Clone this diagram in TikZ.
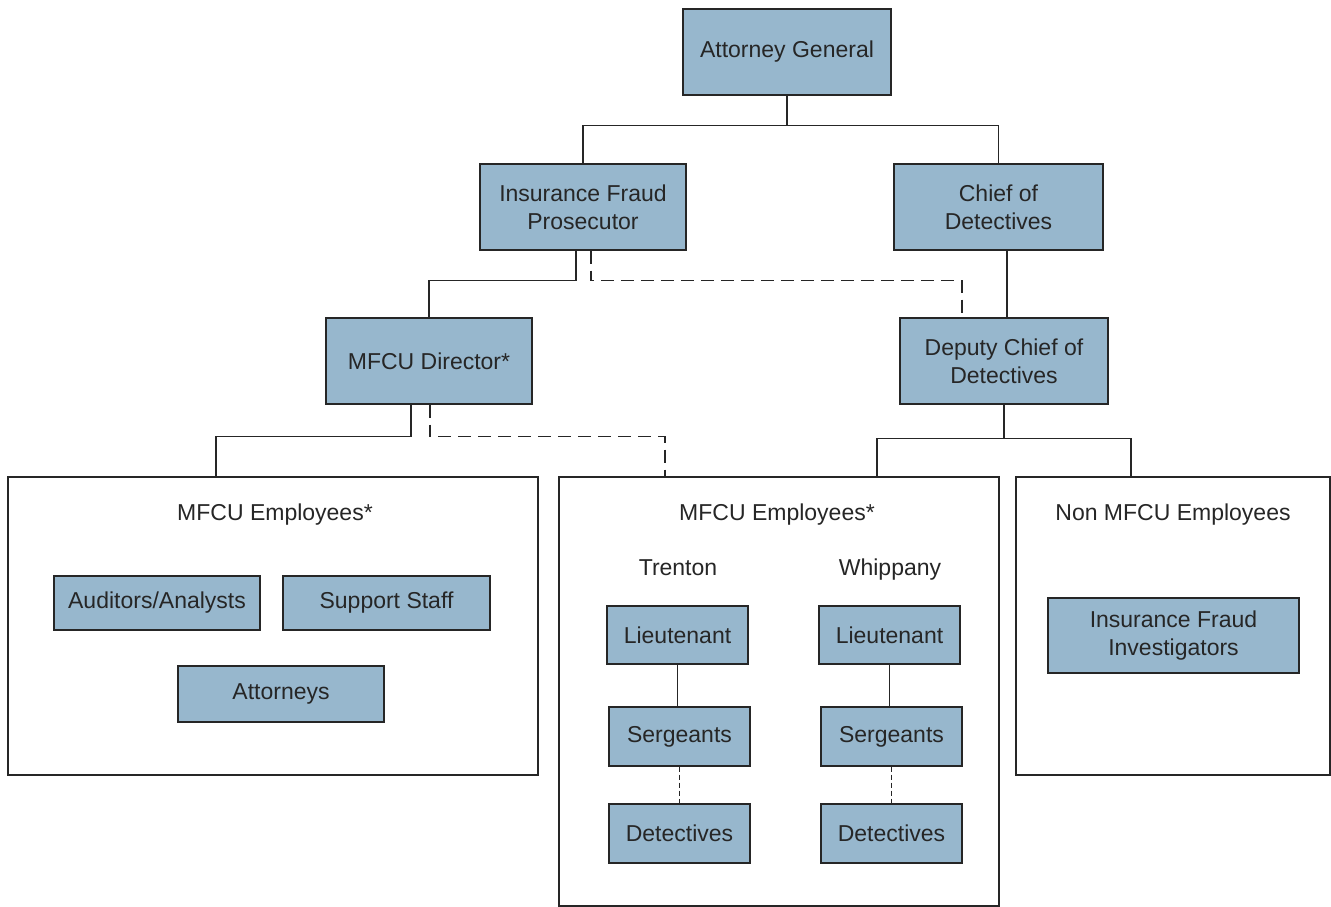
\documentclass[tikz,border=0pt]{standalone}
\usepackage{fontspec}
\setmainfont{Liberation Sans}
\usetikzlibrary{positioning}
\definecolor{boxblue}{HTML}{97B7CD}
\definecolor{inkgray}{HTML}{262626}

\tikzset{
    base/.style={font=\fontsize{23}{28}\selectfont, text=inkgray, align=center, inner sep=0pt},
    box/.style={base, draw=inkgray, line width=1.4pt, fill=boxblue},
    group/.style={draw=inkgray, line width=1.4pt, fill=white, inner sep=0pt},
    title/.style={base, anchor=base},
    conn/.style={draw=inkgray, line width=1.4pt},
    dashconn/.style={conn, dash pattern=on 13pt off 7pt}
}

\begin{document}
\begin{tikzpicture}[x=1pt, y=-1pt]
    \useasboundingbox (0,0) rectangle (1331,907);

    % Top levels
    \node[box, minimum width=208, minimum height=86] (ag) at (787,52) {Attorney General};
    \node[box, minimum width=206, minimum height=86] (ifp) at (583,207) {Insurance Fraud\\Prosecutor};
    \node[box, minimum width=209, minimum height=86] (cod) at (998.5,207) {Chief of\\Detectives};
    \node[box, minimum width=206, minimum height=86] (dir) at (429,361) {MFCU Director*};
    \node[box, minimum width=208, minimum height=86] (dep) at (1004,361) {Deputy Chief of\\Detectives};

    % Groups
    \node[group, minimum width=530, minimum height=298] (grpL) at (273,626) {};
    \node[group, minimum width=440, minimum height=429] (grpM) at (779,691.5) {};
    \node[group, minimum width=314, minimum height=298] (grpR) at (1173,626) {};
    \node[title] (titleL) at (275,520) {MFCU Employees*};
    \node[title] (titleM) at (777,520) {MFCU Employees*};
    \node[title] (titleR) at (1173,520) {Non MFCU Employees};

    % Left group
    \node[box, minimum width=206, minimum height=54] (aud) at (157,603) {Auditors/Analysts};
    \node[box, minimum width=207, minimum height=54] (sup) at (386.5,603) {Support Staff};
    \node[box, minimum width=206, minimum height=56] (att) at (281,694) {Attorneys};

    % Middle group
    \node[title] (trenton) at (678,575) {Trenton};
    \node[title] (whip) at (890,575) {Whippany};
    \node[box, minimum width=141, minimum height=58] (ltT) at (677.5,635) {Lieutenant};
    \node[box, minimum width=141, minimum height=59] (sgT) at (679.5,736.5) {Sergeants};
    \node[box, minimum width=141, minimum height=59] (dtT) at (679.5,833.5) {Detectives};
    \node[box, minimum width=141, minimum height=58] (ltW) at (889.5,635) {Lieutenant};
    \node[box, minimum width=141, minimum height=59] (sgW) at (891.5,736.5) {Sergeants};
    \node[box, minimum width=141, minimum height=59] (dtW) at (891.5,833.5) {Detectives};

    % Right group
    \node[box, minimum width=251, minimum height=75] (ifi) at (1173.5,635.5) {Insurance Fraud\\Investigators};

    % Connectors
    \draw[conn] (ag.south) -- ++(0,30) -| (ifp.north);
    \draw[conn] (ag.south) -- ++(0,30) -| (cod.north);
    \draw[conn] ([xshift=-7pt]ifp.south) -- ++(0,30) -| (dir.north);
    \draw[dashconn] ([xshift=8pt]ifp.south) -- ++(0,30) -| ([xshift=-42pt]dep.north);
    \draw[conn] ([xshift=3pt]dep.north) -- ([xshift=3pt]dep.north |- cod.south);
    \draw[conn] ([xshift=-18pt]dir.south) -- ++(0,32) -| ([xshift=-57pt]grpL.north);
    \draw[dashconn] ([xshift=1pt]dir.south) -- ++(0,32) -| ([xshift=-114pt]grpM.north);
    \draw[conn] (dep.south) -- ++(0,34) -| ([xshift=98pt]grpM.north);
    \draw[conn] (dep.south) -- ++(0,34) -| ([xshift=-42pt]grpR.north);

    \draw[conn] (ltT.south) -- (ltT.south |- sgT.north);
    \draw[dashconn, dash pattern=on 5pt off 3pt] (sgT.south) -- (dtT.north);
    \draw[conn] (ltW.south) -- (ltW.south |- sgW.north);
    \draw[dashconn, dash pattern=on 5pt off 3pt] (sgW.south) -- (dtW.north);
\end{tikzpicture}
\end{document}
